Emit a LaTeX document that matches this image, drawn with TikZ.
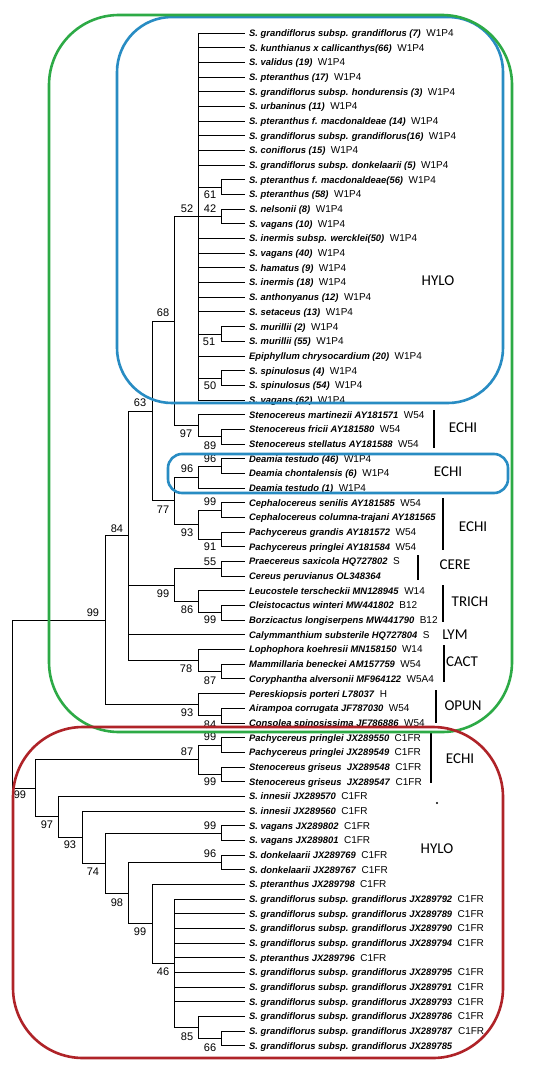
\documentclass[tikz,border=0pt]{standalone}
\usepackage{fontspec}
\setmainfont{Liberation Sans}
\newfontfamily\grpfont{Carlito}
\definecolor{grn}{RGB}{45,170,70}
\definecolor{blu}{RGB}{40,140,195}
\definecolor{rd}{RGB}{175,35,40}
\tikzset{
  leaf/.style={anchor=west, inner sep=0pt, font=\fontsize{9.4}{11}\selectfont, text height=6.8pt, text depth=0pt},
  br/.style={line width=0.9pt, black},
  bs/.style={inner sep=0pt, font=\fontsize{11}{12}\selectfont},
  grp/.style={inner sep=0pt, font=\grpfont\fontsize{15}{16}\selectfont},
  gbar/.style={line width=2.3pt, black},
  frame/.style={line width=2.6pt}
}
\newcommand\lf[3]{%
  \coordinate (t#1) at (245,{33+(#1-1)*14.68});
  \node[leaf] (lab#1) at (249,{33+(#1-1)*14.68}) {\textbf{\textit{#2}}\hspace{5.5pt}{\fontsize{10}{11}\selectfont #3}};}
\begin{document}
\begin{tikzpicture}[x=1pt,y=-1pt]
\useasboundingbox (0,0) rectangle (550,1070);
\fill[white] (0,0) rectangle (550,1070);
% leaves
\lf{1}{S. grandiflorus subsp. grandiflorus (7)}{W1P4}
\lf{2}{S. kunthianus x callicanthys(66)}{W1P4}
\lf{3}{S. validus (19)}{W1P4}
\lf{4}{S. pteranthus (17)}{W1P4}
\lf{5}{S. grandiflorus subsp. hondurensis (3)}{W1P4}
\lf{6}{S. urbaninus (11)}{W1P4}
\lf{7}{S. pteranthus f. macdonaldeae (14)}{W1P4}
\lf{8}{S. grandiflorus subsp. grandiflorus(16)}{W1P4}
\lf{9}{S. coniflorus (15)}{W1P4}
\lf{10}{S. grandiflorus subsp. donkelaarii (5)}{W1P4}
\lf{11}{S. pteranthus f. macdonaldeae(56)}{W1P4}
\lf{12}{S. pteranthus (58)}{W1P4}
\lf{13}{S. nelsonii (8)}{W1P4}
\lf{14}{S. vagans (10)}{W1P4}
\lf{15}{S. inermis subsp. wercklei(50)}{W1P4}
\lf{16}{S. vagans (40)}{W1P4}
\lf{17}{S. hamatus (9)}{W1P4}
\lf{18}{S. inermis (18)}{W1P4}
\lf{19}{S. anthonyanus (12)}{W1P4}
\lf{20}{S. setaceus (13)}{W1P4}
\lf{21}{S. murillii (2)}{W1P4}
\lf{22}{S. murillii (55)}{W1P4}
\lf{23}{Epiphyllum chrysocardium (20)}{W1P4}
\lf{24}{S. spinulosus (4)}{W1P4}
\lf{25}{S. spinulosus (54)}{W1P4}
\lf{26}{S. vagans (62)}{W1P4}
\lf{27}{Stenocereus martinezii AY181571}{W54}
\lf{28}{Stenocereus fricii AY181580}{W54}
\lf{29}{Stenocereus stellatus AY181588}{W54}
\lf{30}{Deamia testudo (46)}{W1P4}
\lf{31}{Deamia chontalensis (6)}{W1P4}
\lf{32}{Deamia testudo (1)}{W1P4}
\lf{33}{Cephalocereus senilis AY181585}{W54}
\lf{34}{Cephalocereus columna-trajani AY181565}{}
\lf{35}{Pachycereus grandis AY181572}{W54}
\lf{36}{Pachycereus pringlei AY181584}{W54}
\lf{37}{Praecereus saxicola HQ727802}{S}
\lf{38}{Cereus peruvianus OL348364}{}
\lf{39}{Leucostele terscheckii MN128945}{W14}
\lf{40}{Cleistocactus winteri MW441802}{B12}
\lf{41}{Borzicactus longiserpens MW441790}{B12}
\lf{42}{Calymmanthium substerile HQ727804}{S}
\lf{43}{Lophophora koehresii MN158150}{W14}
\lf{44}{Mammillaria beneckei AM157759}{W54}
\lf{45}{Coryphantha alversonii MF964122}{W5A4}
\lf{46}{Pereskiopsis porteri L78037}{H}
\lf{47}{Airampoa corrugata JF787030}{W54}
\lf{48}{Consolea spinosissima JF786886}{W54}
\lf{49}{Pachycereus pringlei JX289550}{C1FR}
\lf{50}{Pachycereus pringlei JX289549}{C1FR}
\lf{51}{Stenocereus griseus\ \ JX289548}{C1FR}
\lf{52}{Stenocereus griseus\ \ JX289547}{C1FR}
\lf{53}{S. innesii JX289570}{C1FR}
\lf{54}{S. innesii JX289560}{C1FR}
\lf{55}{S. vagans JX289802}{C1FR}
\lf{56}{S. vagans JX289801}{C1FR}
\lf{57}{S. donkelaarii JX289769}{C1FR}
\lf{58}{S. donkelaarii JX289767}{C1FR}
\lf{59}{S. pteranthus JX289798}{C1FR}
\lf{60}{S. grandiflorus subsp. grandiflorus JX289792}{C1FR}
\lf{61}{S. grandiflorus subsp. grandiflorus JX289789}{C1FR}
\lf{62}{S. grandiflorus subsp. grandiflorus JX289790}{C1FR}
\lf{63}{S. grandiflorus subsp. grandiflorus JX289794}{C1FR}
\lf{64}{S. pteranthus JX289796}{C1FR}
\lf{65}{S. grandiflorus subsp. grandiflorus JX289795}{C1FR}
\lf{66}{S. grandiflorus subsp. grandiflorus JX289791}{C1FR}
\lf{67}{S. grandiflorus subsp. grandiflorus JX289793}{C1FR}
\lf{68}{S. grandiflorus subsp. grandiflorus JX289786}{C1FR}
\lf{69}{S. grandiflorus subsp. grandiflorus JX289787}{C1FR}
\lf{70}{S. grandiflorus subsp. grandiflorus JX289785}{}
% internal nodes
\coordinate (cP61) at (221,187.2);
\coordinate (cP42) at (221,216.5);
\coordinate (cP51) at (221,334.0);
\coordinate (cP50) at (221,378.0);
\coordinate (cA) at (198,216.5);
\coordinate (cD) at (221,436.7);
\coordinate (cC) at (198,425.7);
\coordinate (cB) at (174,321.1);
\coordinate (cG2) at (221,466.0);
\coordinate (cG) at (198,477.0);
\coordinate (cI) at (221,510.1);
\coordinate (cJ) at (221,539.5);
\coordinate (cH) at (198,524.8);
\coordinate (cF) at (174,500.9);
\coordinate (cE) at (152,411.0);
\coordinate (cCE) at (221,568.9);
\coordinate (cO) at (221,612.9);
\coordinate (cN) at (198,601.8);
\coordinate (cM) at (174,585.3);
\coordinate (cQ) at (221,671.6);
\coordinate (cPc) at (198,660.6);
\coordinate (cK) at (128,535.8);
\coordinate (cT) at (221,715.6);
\coordinate (cS) at (198,704.6);
\coordinate (cR) at (105,620.2);
\coordinate (cV1) at (221,745.0);
\coordinate (cV2) at (221,774.3);
\coordinate (cV) at (198,759.7);
\coordinate (cVG) at (221,833.0);
\coordinate (cDK) at (221,862.4);
\coordinate (cDD) at (221,1038.6);
\coordinate (cCC) at (198,1027.6);
\coordinate (cBB) at (174,963.4);
\coordinate (cAA) at (152,923.9);
\coordinate (cZ) at (128,893.2);
\coordinate (cY) at (105,863.1);
\coordinate (cX) at (82,837.0);
\coordinate (cW) at (58,816.7);
\coordinate (cU) at (35,788.2);
\coordinate (croot) at (12,704.2);
% branches
\foreach \i in {1,...,10,15,16,17,18,19,20,23,26} \draw[br] (cA) |- (t\i);
\foreach \c in {cP61,cP42,cP51,cP50} \draw[br] (cA) |- (\c);
\draw[br] (cP61) |- (t11); \draw[br] (cP61) |- (t12);
\draw[br] (cP42) |- (t13); \draw[br] (cP42) |- (t14);
\draw[br] (cP51) |- (t21); \draw[br] (cP51) |- (t22);
\draw[br] (cP50) |- (t24); \draw[br] (cP50) |- (t25);
\draw[br] (cD) |- (t28); \draw[br] (cD) |- (t29);
\draw[br] (cC) |- (t27); \draw[br] (cC) |- (cD);
\draw[br] (cB) |- (cA); \draw[br] (cB) |- (cC);
\draw[br] (cG2) |- (t30); \draw[br] (cG2) |- (t31);
\draw[br] (cG) |- (cG2); \draw[br] (cG) |- (t32);
\draw[br] (cI) |- (t33); \draw[br] (cI) |- (t34);
\draw[br] (cJ) |- (t35); \draw[br] (cJ) |- (t36);
\draw[br] (cH) |- (cI); \draw[br] (cH) |- (cJ);
\draw[br] (cF) |- (cG); \draw[br] (cF) |- (cH);
\draw[br] (cE) |- (cB); \draw[br] (cE) |- (cF);
\draw[br] (cCE) |- (t37); \draw[br] (cCE) |- (t38);
\draw[br] (cO) |- (t40); \draw[br] (cO) |- (t41);
\draw[br] (cN) |- (t39); \draw[br] (cN) |- (cO);
\draw[br] (cM) |- (cCE); \draw[br] (cM) |- (cN);
\draw[br] (cQ) |- (t44); \draw[br] (cQ) |- (t45);
\draw[br] (cPc) |- (t43); \draw[br] (cPc) |- (cQ);
\draw[br] (cK) |- (cE); \draw[br] (cK) |- (cM); \draw[br] (cK) |- (t42); \draw[br] (cK) |- (cPc);
\draw[br] (cT) |- (t47); \draw[br] (cT) |- (t48);
\draw[br] (cS) |- (t46); \draw[br] (cS) |- (cT);
\draw[br] (cR) |- (cK); \draw[br] (cR) |- (cS);
\draw[br] (cV1) |- (t49); \draw[br] (cV1) |- (t50);
\draw[br] (cV2) |- (t51); \draw[br] (cV2) |- (t52);
\draw[br] (cV) |- (cV1); \draw[br] (cV) |- (cV2);
\draw[br] (cVG) |- (t55); \draw[br] (cVG) |- (t56);
\draw[br] (cDK) |- (t57); \draw[br] (cDK) |- (t58);
\draw[br] (cDD) |- (t69); \draw[br] (cDD) |- (t70);
\draw[br] (cCC) |- (t68); \draw[br] (cCC) |- (cDD);
\foreach \i in {60,...,67} \draw[br] (cBB) |- (t\i);
\draw[br] (cBB) |- (cCC);
\draw[br] (cAA) |- (t59); \draw[br] (cAA) |- (cBB);
\draw[br] (cZ) |- (cDK); \draw[br] (cZ) |- (cAA);
\draw[br] (cY) |- (cVG); \draw[br] (cY) |- (cZ);
\draw[br] (cX) |- (t54); \draw[br] (cX) |- (cY);
\draw[br] (cW) |- (t53); \draw[br] (cW) |- (cX);
\draw[br] (cU) |- (cV); \draw[br] (cU) |- (cW);
\draw[br] (croot) |- (cR); \draw[br] (croot) |- (cU);
% support values
\node[bs] (s61) at (210,195) {61};
\node[bs] (s52) at (187,209) {52};
\node[bs] (s42) at (210,209) {42};
\node[bs] (s68) at (163,313) {68};
\node[bs] (s51) at (209,342) {51};
\node[bs] (s50) at (210,386) {50};
\node[bs] (s63) at (140,403) {63};
\node[bs] (s97) at (186,434) {97};
\node[bs] (s89) at (210,446) {89};
\node[bs] (s96a) at (210,459) {96};
\node[bs] (s96b) at (187,469) {96};
\node[bs] (s99a) at (210,502) {99};
\node[bs] (s77) at (163,510) {77};
\node[bs] (s84a) at (117,529) {84};
\node[bs] (s93a) at (187,533) {93};
\node[bs] (s91) at (210,547) {91};
\node[bs] (s55) at (210,562) {55};
\node[bs] (s99b) at (163,594) {99};
\node[bs] (s86) at (187,610) {86};
\node[bs] (s99c) at (210,620) {99};
\node[bs] (s99d) at (93,613) {99};
\node[bs] (s78) at (186,669) {78};
\node[bs] (s87a) at (210,681) {87};
\node[bs] (s93b) at (187,713) {93};
\node[bs] (s84b) at (210,725) {84};
\node[bs] (s99e) at (210,737) {99};
\node[bs] (s87b) at (187,752) {87};
\node[bs] (s99f) at (210,782) {99};
\node[bs] (s99g) at (20,795) {99};
\node[bs] (s97b) at (47,825) {97};
\node[bs] (s99h) at (210,826) {99};
\node[bs] (s93c) at (70,845) {93};
\node[bs] (s96c) at (210,854) {96};
\node[bs] (s74) at (93,872) {74};
\node[bs] (s98) at (117,903) {98};
\node[bs] (s99i) at (140,932) {99};
\node[bs] (s46) at (163,972) {46};
\node[bs] (s85) at (187,1037) {85};
\node[bs] (s66) at (210,1048) {66};
% group labels and bars
\node[grp] (gHYLO1) at (438,281) {HYLO};
\node[grp] (gECHI1) at (463,428) {ECHI};
\draw[gbar] (434,410) -- (434,448);
\node[grp] (gECHI2) at (448,472) {ECHI};
\node[grp] (gECHI3) at (473,527) {ECHI};
\draw[gbar] (443,498) -- (443,550);
\node[grp] (gCERE) at (455,565) {CERE};
\draw[gbar] (418,555) -- (418,580);
\node[grp] (gTRICH) at (470,602) {TRICH};
\draw[gbar] (443,585) -- (443,622);
\node[grp] (gLYM) at (455,635) {LYM};
\node[grp] (gCACT) at (462,662) {CACT};
\draw[gbar] (444,645) -- (444,682);
\node[grp] (gOPUN) at (463,706) {OPUN};
\draw[gbar] (436,690) -- (436,723);
\node[grp] (gECHI4) at (460,759) {ECHI};
\draw[gbar] (431,733) -- (431,783);
\node[grp] (gHYLO2) at (437,849) {HYLO};
\fill (437,803) circle (1.2);
% frames
\draw[frame, blu, rounded corners=55] (117,17) rectangle (503,403);
\draw[frame, blu, rounded corners=14] (168,454) rectangle (508,493);
\draw[frame, grn, rounded corners=70] (49,15) rectangle (512,732);
\draw[frame, rd, rounded corners=70] (13,727) rectangle (503,1058);
\end{tikzpicture}
\end{document}
